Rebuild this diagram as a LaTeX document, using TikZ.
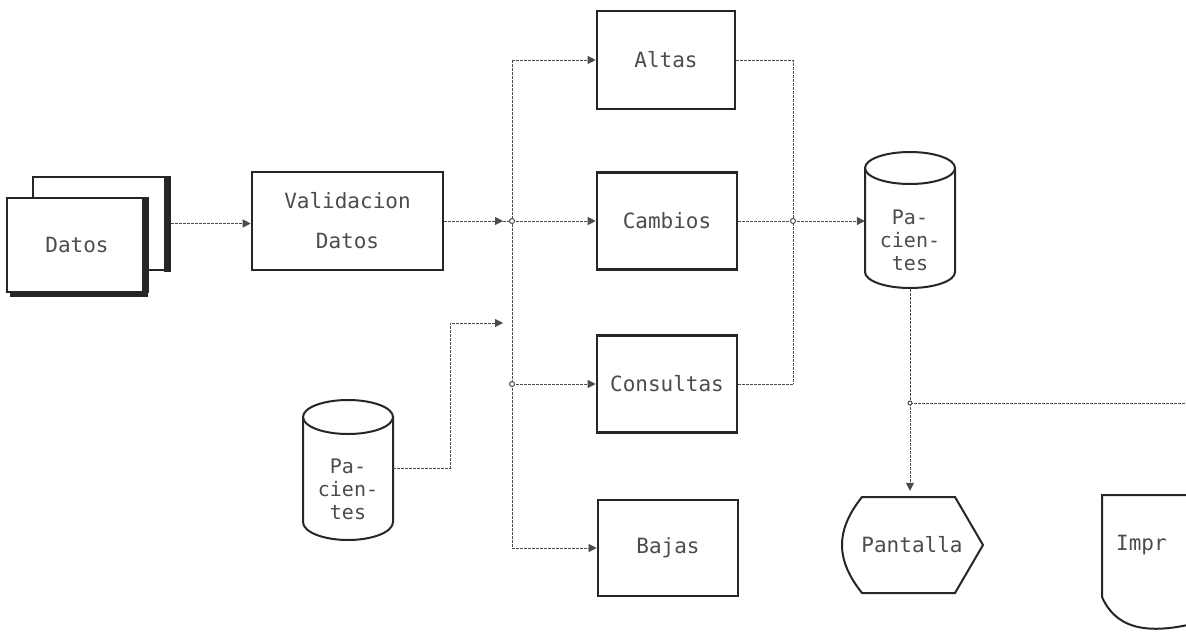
\documentclass[tikz,border=0pt]{standalone}
\usepackage{fontspec}
\newfontfamily\dotfont{DejaVu Sans Mono}
\usetikzlibrary{arrows.meta}
\begin{document}
\begin{tikzpicture}[x=1pt,y=-1pt,
  outline/.style={draw=black!85, line width=2.6pt},
  box/.style={outline, minimum width=140pt, minimum height=97pt, inner sep=0pt,
    font=\dotfont\fontsize{21}{40}\selectfont, text=black!70, align=center},
  lbl/.style={inner sep=0pt, font=\dotfont\fontsize{21}{23}\selectfont, text=black!70, align=center},
  cyl/.style={inner sep=0pt, font=\dotfont\fontsize{20}{23}\selectfont, text=black!70, align=center},
  conn/.style={draw=black!70, line width=1pt, dash pattern=on 3pt off 1pt},
  arr/.style={conn, -{Triangle[length=8pt,width=8pt]}},
  jdot/.style={circle, draw=black!70, fill=white, line width=1pt, inner sep=0pt, minimum size=5pt}
]
\path[use as bounding box] (0,0) rectangle (1186,635);
\fill[white] (0,0) rectangle (1186,635);
\clip (0,0) rectangle (1186,635);

% Datos (stacked documents)
\node[outline, line width=2pt, minimum width=137pt, minimum height=93pt, inner sep=0pt] (datosB) at (101.5,223.5) {};
\draw[black!85, line width=7pt] (167,178) -- (167,272);
\node[outline, line width=2pt, fill=white, minimum width=141pt, minimum height=94pt, inner sep=0pt] (datos) at (77.5,245) {};
\draw[black!85, line width=6pt] (145,198) -- (145,294) -- (10,294);
\node[lbl] at (77,245) {Datos};

% Process boxes
\node[box, minimum width=191pt, minimum height=98pt] (val) at (347.5,221) {Validacion\\Datos};
\node[box, minimum width=138pt, minimum height=98pt] (altas) at (666,60) {Altas};
\node[box] (cambios) at (667,221) {Cambios};
\node[box] (consultas) at (667,384) {Consultas};
\node[box, minimum height=96pt] (bajas) at (668,548) {Bajas};

% Pacientes cylinder (right)
\node[minimum width=90pt, minimum height=135pt, inner sep=0pt] (pac1) at (910,221) {};
\node[cyl] at (910,240) {Pa-\\cien-\\tes};
\draw[outline, line width=2pt] (910,168) ellipse [x radius=45pt, y radius=16pt];
\draw[outline, line width=2pt] (865,168) -- (865,272) arc[start angle=180, end angle=360, x radius=45pt, y radius=16pt] -- (955,168);

% Pacientes cylinder (left)
\node[minimum width=90pt, minimum height=140pt, inner sep=0pt] (pac2) at (348,468) {};
\node[cyl] at (348,489) {Pa-\\cien-\\tes};
\draw[outline, line width=2pt] (348,417) ellipse [x radius=45pt, y radius=17pt];
\draw[outline, line width=2pt] (303,417) -- (303,522) arc[start angle=180, end angle=360, x radius=45pt, y radius=18pt] -- (393,417);

% Pantalla (display)
\node[lbl, minimum width=141pt, minimum height=96pt] (pant) at (912,545) {Pantalla};
\draw[outline, line width=2pt] (862,497) -- (955,497) -- (983,545) -- (955,593) -- (862,593)
  .. controls (850,578) and (842,562) .. (842,545) .. controls (842,528) and (850,512) .. (862,497) -- cycle;

% Impr (document, cut at the edge)
\node[lbl, anchor=west] (impr) at (1116,545) {Impr};
\draw[outline, line width=2pt] (1200,495) -- (1102,495) -- (1102,597)
  .. controls (1114,624) and (1140,638) .. (1200,622);

% Junction coordinates
\coordinate (jTop) at (512,60);
\coordinate (jMid) at (512,221);
\coordinate (jQ) at (512,384);
\coordinate (jBot) at (512,548);
\coordinate (jArr) at (503,221);
\coordinate (pIn) at (503,323);
\coordinate (bend) at (450,323);
\coordinate (kTop) at (793,60);
\coordinate (kMid) at (793,221);
\coordinate (kBot) at (793,384);
\coordinate (jP) at (910,403);
\coordinate (eR) at (1186,403);

% Connectors
\draw[arr] (datosB.east) -- (datosB.east -| val.west);
\draw[arr] (val.east) -- (jArr);
\draw[conn] (jArr) -- (jMid);
\draw[conn] (jTop) -- (jBot);
\draw[arr] (jTop) -- (altas.west);
\draw[arr] (jMid) -- (cambios.west);
\draw[arr] (jQ) -- (consultas.west);
\draw[arr] (jBot) -- (bajas.west);
\draw[arr] (pac2.east) -| (bend) -- (pIn);

\draw[conn] (altas.east) -- (kTop) -- (kBot);
\draw[conn] (consultas.east) -- (kBot);
\draw[conn] (cambios.east) -- (kMid);
\draw[arr] (kMid) -- (pac1.west);

\draw[conn] (pac1.south) -- (jP);
\draw[arr, shorten >=6pt] (jP) -- (jP |- pant.north);
\draw[conn] (jP) -- (eR);

\node[jdot] at (jMid) {};
\node[jdot] at (jQ) {};
\node[jdot] at (kMid) {};
\node[jdot, minimum size=4pt] at (jP) {};
\end{tikzpicture}
\end{document}
